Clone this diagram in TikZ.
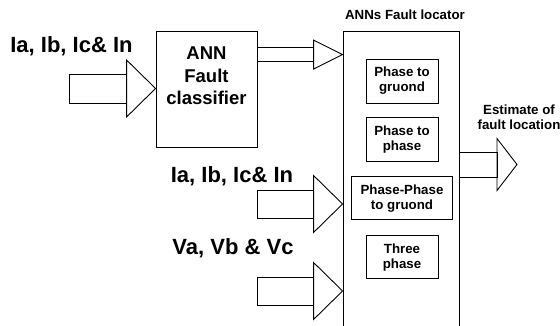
\documentclass[tikz,border=0pt]{standalone}
\usepackage{fontspec}
\setmainfont{Liberation Sans}
\usetikzlibrary{positioning, calc}

% block arrow: tail, tip, shaft half width, head half width, head length
\newcommand{\blockarrow}[5]{%
  \draw[arrowline] ($(#1)+(0,#3)$) rectangle ($(#2)+(-#5,-#3)$);
  \draw[arrowline] ($(#2)+(-#5,-#4)$) -- (#2) -- ($(#2)+(-#5,#4)$) -- cycle;
}

\begin{document}
\begin{tikzpicture}[
    x=1pt, y=-1pt,
    every node/.style={font=\bfseries},
    box/.style={rectangle, draw, line width=0.9pt, inner sep=0pt},
    sub/.style={box, minimum width=72pt, minimum height=44pt, align=center, font=\fontsize{13.3}{15}\selectfont\bfseries},
    lbl/.style={font=\fontsize{22}{26}\selectfont\bfseries},
    small/.style={align=center, font=\fontsize{13.3}{15}\selectfont\bfseries},
    arrowline/.style={draw, line width=0.9pt, line join=miter}
]
\useasboundingbox (0,0) rectangle (560,326);
\clip (0,0) rectangle (560,326);

% classifier
\node[box, minimum width=101pt, minimum height=116pt] (cls) at (206.5,89) {};
\node[align=center, font=\fontsize{18.5}{22.5}\selectfont\bfseries] (clstxt) at ([yshift=13pt]cls.center) {ANN\\Fault\\classifier};

% locator
\node[box, minimum width=116pt, minimum height=340pt, anchor=north] (loc) at (401,31) {};
\node[small] (loctitle) at (405,15) {ANNs Fault locator};
\node[sub] (g1) at (402,81) {Phase to\\gruond};
\node[sub, below=14pt of g1] (g2) {Phase to\\phase};
\node[sub, below=14pt of g2, minimum width=101pt, minimum height=43pt] (g3) {Phase-Phase\\to gruond};
\node[sub, below=15pt of g3, minimum height=43pt] (g4) {Three\\phase};

% labels
\node[lbl] (in1) at (71.5,46) {Ia, Ib, Ic\& In};
\node[lbl] (in2) at (232,176) {Ia, Ib, Ic\& In};
\node[lbl] (in3) at (233,248) {Va, Vb \& Vc};
\node[small] (est) at (519,117) {Estimate of\\fault location};

% arrows
\coordinate (t1) at (69,88.5);
\coordinate (h1) at (cls.west |- t1);
\coordinate (t2) at (257,204);
\coordinate (h2) at (loc.west |- t2);
\coordinate (t3) at (257,291);
\coordinate (h3) at (loc.west |- t3);
\coordinate (t4) at ([yshift=-24pt]cls.north east);
\coordinate (h4) at (loc.west |- t4);
\coordinate (h5) at (517,164.5);
\coordinate (t5) at (loc.east |- h5);

\blockarrow{t1}{h1}{14.5}{28.5}{29}
\blockarrow{t4}{h4}{7}{14.5}{29}
\blockarrow{t2}{h2}{14}{28.5}{29}
\blockarrow{t3}{h3}{14}{28.5}{29}
\blockarrow{t5}{h5}{12.5}{26}{20}
\end{tikzpicture}
\end{document}
